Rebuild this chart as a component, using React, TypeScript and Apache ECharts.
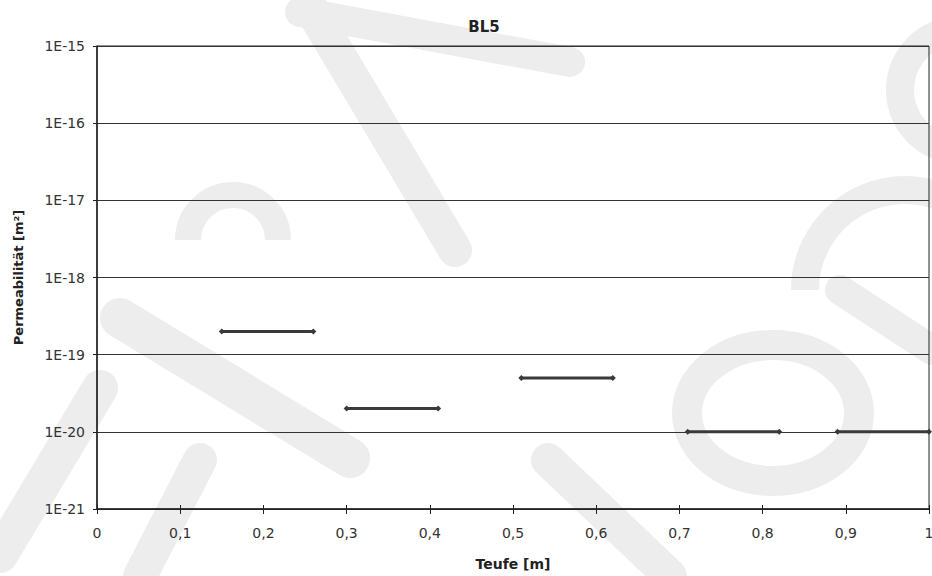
import React, { useEffect, useRef } from "react";
import * as echarts from "echarts";

const title = "BL5";
const xAxisName = "Teufe [m]";
const yAxisName = "Permeabilität [m²]";
// Each measured interval: [from depth, to depth, permeability]
const segFrom = [0.15, 0.3, 0.51, 0.71, 0.89];
const segTo = [0.26, 0.41, 0.62, 0.82, 1.0];
const segValue = [2e-19, 2e-20, 5e-20, 1e-20, 1e-20];
// y axis decades (exponents of 10)
const yMinExp = -21;
const yMaxExp = -15;

const wm = "#ededed";
const FONT = "DejaVu Sans, Verdana, sans-serif";

export default function App() {
  const ref = useRef<HTMLDivElement>(null);
  useEffect(() => {
    if (!ref.current) return;
    const chart = echarts.init(ref.current, null, { renderer: "svg" });
    const series = segFrom.map((f, i) => ({
      type: "line",
      name: "s" + i,
      xAxisIndex: 0,
      data: [
        [f, Math.log10(segValue[i])],
        [segTo[i], Math.log10(segValue[i])],
      ],
      symbol: "diamond",
      symbolSize: 6,
      showSymbol: true,
      lineStyle: { color: "#3a3a3a", width: 3 },
      itemStyle: { color: "#3a3a3a" },
      z: 5,
    }));
    const band = (x1: number, y1: number, x2: number, y2: number, w: number) => ({
      type: "line",
      silent: true,
      z: -10,
      shape: { x1, y1, x2, y2 },
      style: { stroke: wm, lineWidth: w, lineCap: "round" },
    });
    const xCommon = {
      type: "value",
      min: 0,
      max: 1,
      interval: 0.1,
      position: "bottom",
    };
    chart.setOption({
      animation: false,
      backgroundColor: "#ffffff",
      textStyle: { fontFamily: FONT },
      title: {
        text: title,
        left: 479,
        top: 14,
        textAlign: "center",
        textStyle: { fontSize: 15, fontWeight: "bold", color: "#222", fontFamily: FONT },
      },
      graphic: [
        band(300, 12, 570, 62, 30),
        band(312, 10, 455, 250, 34),
        {
          type: "arc",
          silent: true,
          z: -10,
          shape: { cx: 233, cy: 240, r: 45, startAngle: Math.PI, endAngle: 2 * Math.PI },
          style: { stroke: wm, lineWidth: 26, fill: "none" },
        },
        band(120, 318, 350, 458, 40),
        band(0, 555, 100, 388, 36),
        band(140, 576, 200, 460, 34),
        band(548, 460, 670, 576, 34),
        band(840, 290, 932, 350, 30),
        {
          type: "ellipse",
          silent: true,
          z: -10,
          shape: { cx: 773, cy: 413, rx: 86, ry: 68 },
          style: { stroke: wm, lineWidth: 30, fill: "none" },
        },
        {
          type: "arc",
          silent: true,
          z: -10,
          shape: { cx: 960, cy: 90, r: 60, startAngle: Math.PI * 0.6, endAngle: Math.PI * 1.4 },
          style: { stroke: wm, lineWidth: 28, fill: "none" },
        },
        {
          type: "arc",
          silent: true,
          z: -10,
          shape: { cx: 905, cy: 290, r: 100, startAngle: Math.PI, endAngle: Math.PI * 1.75 },
          style: { stroke: wm, lineWidth: 28, fill: "none" },
        },
      ],
      grid: {
        left: 97,
        right: 3,
        top: 46,
        bottom: 67,
        containLabel: false,
        outerBoundsMode: "none",
        show: true,
        borderColor: "#222",
        borderWidth: 1,
      },
      xAxis: [
        {
          ...xCommon,
          name: xAxisName,
          nameLocation: "middle",
          nameGap: 48,
          nameTextStyle: { fontSize: 14, fontWeight: "bold", color: "#222", fontFamily: FONT },
          axisLine: { lineStyle: { color: "#222", width: 1.5 } },
          axisTick: { show: true, length: 5, lineStyle: { color: "#222" } },
          axisLabel: {
            margin: 17,
            fontSize: 14,
            color: "#333",
            fontFamily: FONT,
            formatter: (v: number) => (Math.round(v * 10) / 10).toString().replace(".", ","),
          },
          splitLine: { show: false },
        },
        {
          ...xCommon,
          axisLine: { show: false },
          axisTick: { show: true, inside: true, length: 4, lineStyle: { color: "#222" } },
          axisLabel: { show: false },
          splitLine: { show: false },
        },
      ],
      yAxis: {
        type: "value",
        min: yMinExp,
        max: yMaxExp,
        interval: 1,
        name: yAxisName,
        nameLocation: "middle",
        nameGap: 72,
        nameTextStyle: { fontSize: 13, fontWeight: "bold", color: "#222", fontFamily: FONT },
        axisLine: { show: true, lineStyle: { color: "#222", width: 1.5 } },
        axisTick: { show: true, length: 4, lineStyle: { color: "#222" } },
        axisLabel: {
          margin: 12,
          fontSize: 14,
          color: "#333",
          fontFamily: FONT,
          formatter: (v: number) => "1E" + Math.round(v),
        },
        splitLine: { show: true, lineStyle: { color: "#333", width: 1 } },
      },
      series,
    });
    return () => chart.dispose();
  }, []);
  return <div ref={ref} style={{ width: 932, height: 576, position: "absolute", left: 0, top: 0 }} />;
}
